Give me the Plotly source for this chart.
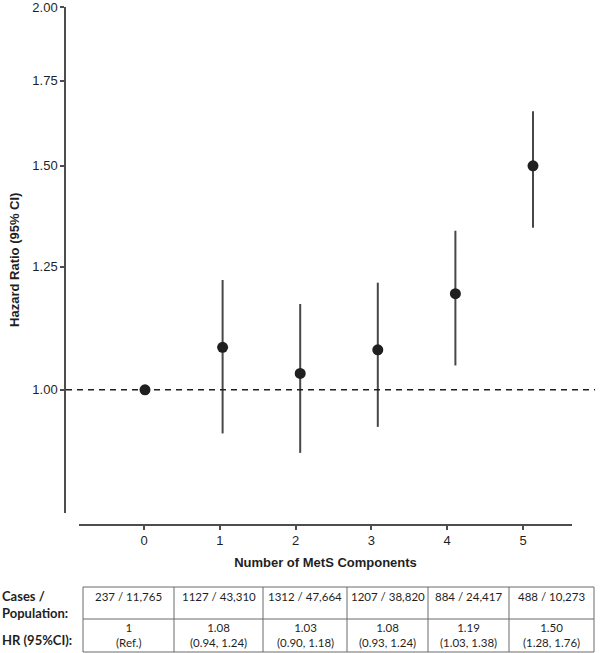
import math
import plotly.graph_objects as go

W, H = 600, 653

# ---------------- data ----------------
components = [0, 1, 2, 3, 4, 5]
hr_plot = [1.00, 1.08, 1.03, 1.075, 1.19, 1.50]
ci_low_plot = [1.00, 0.924, 0.892, 0.935, 1.045, 1.341]
ci_high_plot = [1.00, 1.22, 1.168, 1.214, 1.334, 1.656]

cases = [237, 1127, 1312, 1207, 884, 488]
population = [11765, 43310, 47664, 38820, 24417, 10273]
hr_table = ["1", "1.08", "1.03", "1.08", "1.19", "1.50"]
ci_table = ["(Ref.)", "(0.94, 1.24)", "(0.90, 1.18)", "(0.93, 1.24)", "(1.03, 1.38)", "(1.28, 1.76)"]

ytick_vals = [1.00, 1.25, 1.50, 1.75, 2.00]
ytick_text = ["1.00", "1.25", "1.50", "1.75", "2.00"]
row_labels = ["Cases /<br>Population:", "HR (95%CI):"]


def fx(p):
    return p / W


def fy(p):
    return 1 - p / H


CHART_FONT = "Liberation Sans, Arial, sans-serif"
TABLE_FONT = "Lato, Open Sans, sans-serif"
INK = "#1f1f1f"
AXIS = "#4d4d4d"

fig = go.Figure()

err_plus = [h - v for v, h in zip(hr_plot, ci_high_plot)]
err_minus = [v - l for v, l in zip(hr_plot, ci_low_plot)]

fig.add_trace(go.Scatter(
    x=components, y=hr_plot, mode="markers",
    marker=dict(size=11, color=INK),
    error_y=dict(type="data", symmetric=False, array=err_plus, arrayminus=err_minus,
                 thickness=2, width=0, color="#474747"),
    hoverinfo="skip", showlegend=False,
))

# invisible trace to carry the detached x axis
fig.add_trace(go.Scatter(
    x=components, y=hr_plot, xaxis="x2", yaxis="y", mode="markers",
    marker=dict(size=1, opacity=0), hoverinfo="skip", showlegend=False,
))

y_top_px, y_bot_px = 6.5, 513.0
fig.update_layout(
    width=W, height=H,
    margin=dict(l=0, r=0, t=0, b=0),
    paper_bgcolor="white", plot_bgcolor="rgba(0,0,0,0)",
    font=dict(family=CHART_FONT, color=INK, size=13),
    showlegend=False,
    xaxis=dict(domain=[fx(66), fx(595)], range=[-1.018, 5.799], visible=False,
               anchor="y"),
    yaxis=dict(domain=[fy(y_bot_px), fy(y_top_px)], type="log",
               range=[math.log10(0.8), math.log10(2.0) + 0.0004],
               anchor="x", tickvals=ytick_vals, ticktext=ytick_text,
               ticks="outside", ticklen=4, tickwidth=1.5, tickcolor=AXIS,
               ticklabeloverflow="allow",
               showline=True, linecolor=AXIS, linewidth=1.5,
               showgrid=False, zeroline=False, automargin=False,
               tickfont=dict(size=13, color=INK, family=CHART_FONT),
               title=dict(text="Hazard Ratio (95% CI)", standoff=10,
                          font=dict(size=13, weight="bold", color=INK, family=CHART_FONT))),
    xaxis2=dict(domain=[fx(79), fx(572)], range=[-0.858, 5.646], anchor="free",
                position=fy(525), tickvals=components,
                ticktext=[str(c) for c in components],
                ticks="outside", ticklen=4, tickwidth=1.5, tickcolor=AXIS,
                showline=True, linecolor=AXIS, linewidth=1.5,
                showgrid=False, zeroline=False, automargin=False,
                tickfont=dict(size=13, color=INK, family=CHART_FONT),
                title=dict(text="Number of MetS Components", standoff=10,
                           font=dict(size=13, weight="bold", color=INK, family=CHART_FONT))),
)

# reference line at HR = 1
fig.add_shape(type="line", xref="paper", yref="y", x0=fx(66), x1=fx(595), y0=1, y1=1,
              line=dict(color=INK, width=1.5, dash="6px,5px"))

# ---------------- table ----------------
col_edges = [83, 174, 263, 347, 428, 509, 594]
t_top, t_mid, t_bot = 587, 619, 652
tline = dict(color="#6a6a6a", width=1)
fig.add_shape(type="rect", xref="paper", yref="paper", x0=fx(col_edges[0]), x1=fx(col_edges[-1]),
              y0=fy(t_bot), y1=fy(t_top), line=tline)
fig.add_shape(type="line", xref="paper", yref="paper", x0=fx(col_edges[0]), x1=fx(col_edges[-1]),
              y0=fy(t_mid), y1=fy(t_mid), line=tline)
for e in col_edges[1:-1]:
    fig.add_shape(type="line", xref="paper", yref="paper", x0=fx(e), x1=fx(e),
                  y0=fy(t_bot), y1=fy(t_top), line=tline)

for i in range(len(components)):
    cx = (col_edges[i] + col_edges[i + 1]) / 2
    fig.add_annotation(xref="paper", yref="paper", x=fx(cx), y=fy(596),
                       text=f"{cases[i]} / {population[i]:,}", showarrow=False,
                       xanchor="center", yanchor="middle",
                       font=dict(family=TABLE_FONT, size=11.5, color=INK))
    fig.add_annotation(xref="paper", yref="paper", x=fx(cx), y=fy(635),
                       text=f"{hr_table[i]}<br>{ci_table[i]}", showarrow=False,
                       xanchor="center", yanchor="middle",
                       font=dict(family=TABLE_FONT, size=11.5, color=INK))

fig.add_annotation(xref="paper", yref="paper", x=0, y=fy(604.5), text=row_labels[0],
                   showarrow=False, xanchor="left", yanchor="middle", align="left",
                   font=dict(family=TABLE_FONT, size=13, weight="bold", color=INK))
fig.add_annotation(xref="paper", yref="paper", x=0, y=fy(640), text=row_labels[1],
                   showarrow=False, xanchor="left", yanchor="middle", align="left",
                   font=dict(family=TABLE_FONT, size=13, weight="bold", color=INK))

fig.write_html("out.html", config={"displayModeBar": False},
               post_script="document.body.style.margin='0';")
